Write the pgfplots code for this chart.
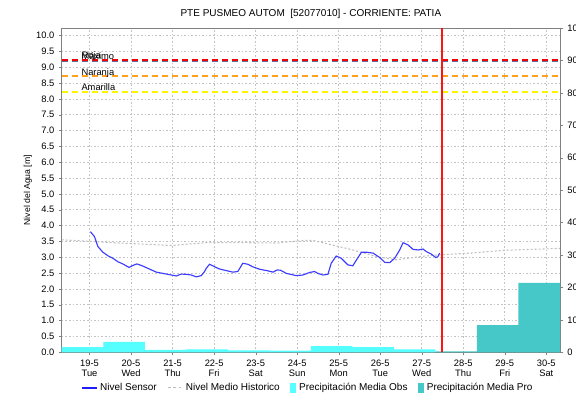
\documentclass[border=0pt]{standalone}
\usepackage{fontspec}
\setmainfont{Liberation Sans}
\usepackage{pgfplots}
\pgfplotsset{compat=1.18}
\definecolor{cSensor}{RGB}{60,60,255}
\definecolor{cLegBlue}{RGB}{30,30,250}
\definecolor{cHist}{RGB}{190,190,190}
\definecolor{cObs}{RGB}{85,255,255}
\definecolor{cPro}{RGB}{70,200,200}
\definecolor{cRoja}{RGB}{240,0,0}
\definecolor{cMaximo}{RGB}{100,110,160}
\definecolor{cNaranja}{RGB}{255,160,30}
\definecolor{cGrid}{RGB}{195,195,195}
\definecolor{cAxis}{RGB}{128,128,128}
\pgfplotsset{
  common/.style={
    at={(0,0)}, anchor=south west,
    scale only axis, width=373.7pt, height=243.2pt,
    xmin=-0.67, xmax=11.33,
    /pgf/number format/assume math mode=true,
    tick label style={font=\fontsize{7}{8}\selectfont},
    axis line style={cAxis},
    tick style={cAxis},
    major tick length=2pt,
    tick align=outside,
  },
  legSensor/.style={legend image code/.code={\draw[cLegBlue, line width=0.9pt] (0pt,0pt) -- (11pt,0pt);}},
  legHist/.style={legend image code/.code={\draw[cHist, line width=0.8pt, dash pattern=on 2pt off 2pt] (0pt,0pt) -- (11pt,0pt);}},
  legObs/.style={legend image code/.code={\fill[cObs] (0pt,-3.8pt) rectangle (4.5pt,3.8pt);}},
  legPro/.style={legend image code/.code={\fill[cPro] (0pt,-3.8pt) rectangle (4.5pt,3.8pt);}},
}
\begin{document}
\begin{tikzpicture}
\useasboundingbox (-46.3pt,-38.0pt) rectangle (385.7pt,264.2pt);
\begin{axis}[common,
  ymin=0, ymax=10.24,
  xtick={0,...,11},
  xticklabels={{19-5\\Tue},{20-5\\Wed},{21-5\\Thu},{22-5\\Fri},{23-5\\Sat},{24-5\\Sun},{25-5\\Mon},{26-5\\Tue},{27-5\\Wed},{28-5\\Thu},{29-5\\Fri},{30-5\\Sat}},
  x tick label style={align=center},
  xtick pos=bottom, ytick pos=left,
  ytick={0,0.5,...,10},
  yticklabel style={/pgf/number format/.cd, fixed, fixed zerofill, precision=1},
  grid=major,
  major grid style={cGrid, dash pattern=on 1.2pt off 1.5pt, line width=0.5pt},
  ylabel={Nivel del Agua [m]},
  ylabel style={font=\fontsize{6.5}{8}\selectfont, at={(axis description cs:-0.0677,0.5)}, anchor=center},
  title={PTE PUSMEO AUTOM\ \ [52077010] - CORRIENTE: PATIA},
  every axis title/.style={font=\fontsize{7.5}{9}\selectfont, at={(axis description cs:0.5,1)}, anchor=center, yshift=10.5pt},
]
% thresholds
\addplot[draw=cRoja, line width=1.4pt, dash pattern=on 5pt off 2.5pt] coordinates {(-0.67,9.24) (11.33,9.24)};
\addplot[draw=cMaximo, line width=1.4pt, dash pattern=on 5pt off 2.5pt] coordinates {(-0.67,9.18) (11.33,9.18)};
\addplot[draw=cNaranja, line width=1.2pt, dash pattern=on 5pt off 2.5pt] coordinates {(-0.67,8.73) (11.33,8.73)};
\addplot[draw={rgb,255:red,250;green,245;blue,0}, line width=1.3pt, dash pattern=on 5pt off 2.5pt] coordinates {(-0.67,8.23) (11.33,8.23)};
\node[anchor=base west, inner sep=0pt, font=\fontsize{7}{8}\selectfont] at (axis cs:-0.2,9.27) {Roja};
\node[anchor=base west, inner sep=0pt, font=\fontsize{7}{8}\selectfont] at (axis cs:-0.2,9.25) {Máximo};
\node[anchor=base west, inner sep=0pt, font=\fontsize{7}{8}\selectfont] at (axis cs:-0.2,8.74) {Naranja};
\node[anchor=base west, inner sep=0pt, font=\fontsize{7}{8}\selectfont] at (axis cs:-0.2,8.27) {Amarilla};
% historic
\addplot[draw=cHist, line width=0.8pt, dash pattern=on 1.5pt off 1.5pt] coordinates {
(-0.67,3.55)(-0.2,3.52)(0.56,3.46)(1.37,3.41)(2.0,3.37)(2.4,3.42)(2.81,3.46)(3.78,3.46)(4.5,3.45)(5.14,3.53)(5.38,3.53)(5.94,3.36)(6.34,3.23)(6.91,3.02)(7.39,2.92)(7.95,3.02)(8.35,3.07)(9.16,3.13)(10.0,3.22)(11.33,3.28)};
% sensor
\addplot[draw=cSensor, line width=0.85pt] coordinates {
(0.02,3.81)(0.12,3.65)(0.20,3.34)(0.32,3.16)(0.44,3.05)(0.56,2.97)(0.68,2.86)(0.80,2.79)(0.95,2.68)(1.04,2.74)(1.14,2.79)(1.25,2.74)(1.37,2.67)(1.49,2.60)(1.61,2.53)(1.81,2.48)(2.01,2.43)(2.09,2.41)(2.21,2.47)(2.33,2.46)(2.45,2.44)(2.57,2.38)(2.69,2.42)(2.77,2.55)(2.81,2.65)(2.89,2.78)(3.01,2.70)(3.13,2.63)(3.29,2.58)(3.45,2.53)(3.57,2.55)(3.64,2.70)(3.69,2.81)(3.81,2.78)(3.93,2.70)(4.10,2.62)(4.30,2.57)(4.42,2.53)(4.52,2.60)(4.60,2.59)(4.74,2.49)(4.98,2.42)(5.14,2.44)(5.30,2.52)(5.42,2.55)(5.50,2.49)(5.62,2.44)(5.74,2.46)(5.82,2.81)(5.94,3.04)(6.06,2.97)(6.22,2.76)(6.34,2.73)(6.44,2.94)(6.55,3.16)(6.67,3.16)(6.83,3.13)(6.99,2.99)(7.11,2.84)(7.23,2.83)(7.35,2.97)(7.47,3.23)(7.55,3.46)(7.67,3.39)(7.79,3.25)(7.91,3.23)(8.03,3.26)(8.11,3.18)(8.23,3.10)(8.34,2.99)(8.39,3.02)(8.43,3.13)};
\end{axis}
\begin{axis}[common,
  ymin=0, ymax=100,
  axis x line=none,
  axis y line*=right,
  ytick={0,10,...,100},
  legend columns=4,
  legend style={draw=none, fill=none, font=\fontsize{7.5}{9}\selectfont,
    at={(0.495,-0.11)}, anchor=center,
    /tikz/every even column/.append style={column sep=6pt}},
  legend cell align=left,
]
\addlegendimage{legSensor}
\addlegendentry{Nivel Sensor}
\addlegendimage{legHist}
\addlegendentry{Nivel Medio Historico}
\addplot[fill=cObs, draw=none, const plot, legObs] coordinates {
(-0.67,1.6)(0.33,3.2)(1.33,0.7)(2.33,0.9)(3.33,0.6)(4.33,0.5)(5.33,1.9)(6.33,1.6)(7.33,0.9)(8.33,0.9)} \closedcycle;
\addlegendentry{Precipitación Media Obs}
\addplot[fill=cPro, draw=none, const plot, legPro] coordinates {
(8.33,0.3)(9.33,8.4)(10.33,21.4)(11.33,21.4)} \closedcycle;
\addlegendentry{Precipitación Media Pro}
% now line
\addplot[draw={rgb,255:red,255;green,20;blue,20}, line width=1.3pt, forget plot] coordinates {(8.48,0) (8.48,100)};
\end{axis}
\end{tikzpicture}
\end{document}
